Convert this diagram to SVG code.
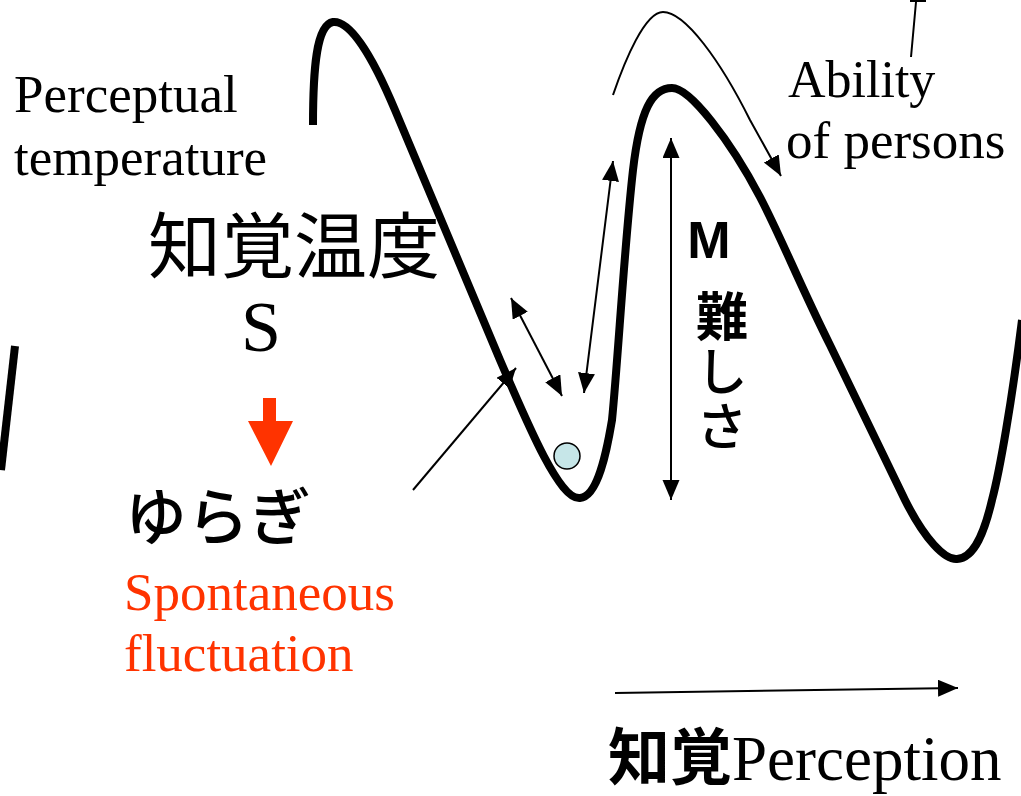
<svg xmlns="http://www.w3.org/2000/svg" width="1021" height="796" viewBox="0 0 1021 796">
<style>
.thick{fill:none;stroke:#000;stroke-width:8;stroke-linecap:butt;stroke-linejoin:round}
.thin{fill:none;stroke:#000;stroke-width:2}
.serif{font-family:"Liberation Serif","Noto Sans CJK JP",serif;fill:#000}
.sans{font-family:"Liberation Sans","Noto Sans CJK JP",sans-serif;fill:#000}
.cjk{font-family:"Noto Sans CJK JP",sans-serif;fill:#000}
.red{fill:#ff3300}
</style>
<defs>
<marker id="ah" markerUnits="userSpaceOnUse" markerWidth="22" markerHeight="18" refX="20" refY="8.5" orient="auto-start-reverse" viewBox="0 0 22 18">
<path d="M0,0 L20,8.5 L0,17 z" fill="#000"/>
</marker>
</defs>
<rect width="1021" height="796" fill="#fff"/>
<g id="landscape">
<path class="thick" d="M313 125 C313 70 316 25 333 22 C350 20 372 55 395 110 L500 360 C530 430 560 500 580 498 C598 497 607 450 612 420 C618 360 624 250 633 170 C640 110 652 88 672 88 C690 88 730 140 760 197 C780 235 800 285 830 345 L905 500 C925 540 945 560 957 559 C975 558 985 530 992 500 C1000 470 1012 400 1022 320"/>
<path class="thick" d="M15 346 L1 470"/>
</g>
<g id="ball">
<circle cx="567" cy="456" r="13" fill="#c6e6e8" stroke="#000" stroke-width="1.5"/>
</g>
<g id="connectors">
<path class="thin" d="M613 95 C625 60 645 12 663 12 C685 12 720 60 750 120 L781 176" marker-end="url(#ah)"/>
<path class="thin" d="M911 57 L916 2 M910 1 L926 1"/>
<path class="thin" d="M413 490 L516 368" marker-end="url(#ah)"/>
<path class="thin" d="M511 298 L562 396" marker-start="url(#ah)" marker-end="url(#ah)"/>
<path class="thin" d="M613 161 L584 393" marker-start="url(#ah)" marker-end="url(#ah)"/>
<path class="thin" d="M671 138 L671 500" marker-start="url(#ah)" marker-end="url(#ah)"/>
<path class="thin" d="M615 693 L958 688" marker-end="url(#ah)"/>
<path class="red" d="M263 398 H276 V421 H293 L271 466 L248 421 H263 Z"/>
</g>
<g id="perceptual-temperature">
<text class="serif" x="14" y="112" font-size="53">Perceptual</text>
<text class="serif" x="14" y="175" font-size="53">temperature</text>
</g>
<g id="chikaku-ondo">
<text class="cjk" x="148" y="272" font-size="72" textLength="292" lengthAdjust="spacingAndGlyphs">知覚温度</text>
<text class="serif" x="261" y="351" font-size="72" text-anchor="middle">S</text>
</g>
<g id="yuragi">
<text class="cjk" x="125" y="540" font-size="62" font-weight="500">ゆらぎ</text>
<text class="serif red" x="124" y="610" font-size="53">Spontaneous</text>
<text class="serif red" x="124" y="671" font-size="53">fluctuation</text>
</g>
<g id="ability">
<text class="serif" x="788" y="97" font-size="52">Ability</text>
<text class="serif" x="786" y="158" font-size="53">of persons</text>
</g>
<g id="difficulty">
<text class="sans" x="709" y="258" font-size="52" font-weight="bold" text-anchor="middle">M</text>
<text class="cjk" x="722" y="290" font-size="52" writing-mode="vertical-rl" letter-spacing="3"><tspan font-weight="bold">難</tspan><tspan font-weight="500">しさ</tspan></text>
</g>
<g id="perception">
<text x="608" y="780"><tspan class="cjk" font-size="62" font-weight="bold">知覚</tspan><tspan class="serif" font-size="63">Perception</tspan></text>
</g>
</svg>
